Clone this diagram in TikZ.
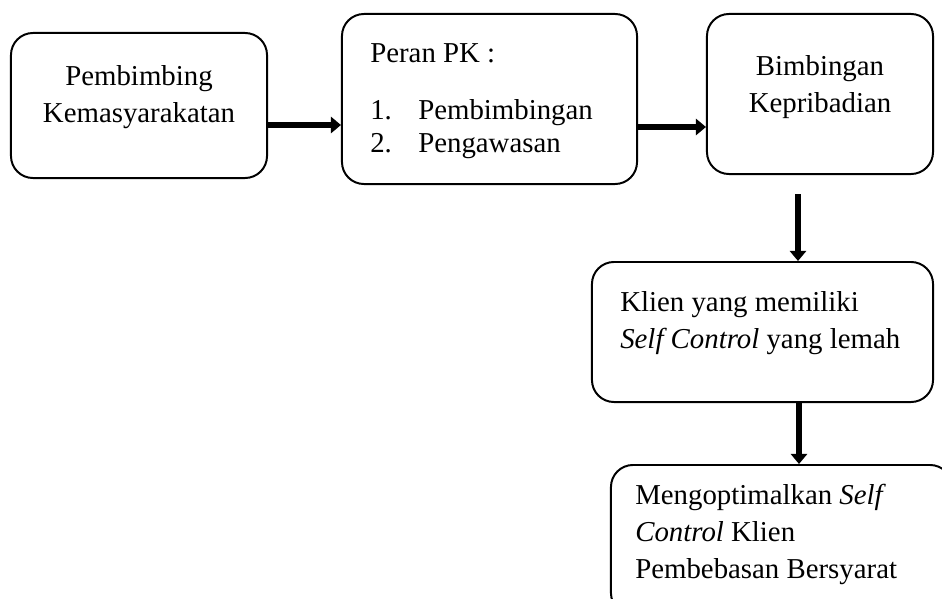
\documentclass[tikz,border=0pt]{standalone}
\usepackage{fontspec}
\setmainfont{Liberation Serif}
\usetikzlibrary{arrows.meta}

\begin{document}
\begin{tikzpicture}[x=0.025cm,y=-0.025cm]
	\tikzset{box/.style={draw,line width=1.4pt,rounded corners=0.55cm,inner sep=0pt},
		tx/.style={inner sep=0pt,font=\fontsize{20.5}{26.2}\selectfont},
		flow/.style={line width=4.6pt,-{Triangle[length=0.25cm,width=0.4cm]}}}
	\useasboundingbox (0,0) rectangle (942,599);
	\clip (0,0) rectangle (942,599);
	% boxes
	\node[box,minimum width=6.4cm,minimum height=3.625cm] (pk) at (139,105.5) {};
	\node[box,minimum width=7.375cm,minimum height=4.25cm] (peran) at (489.5,99) {};
	\node[box,minimum width=5.65cm,minimum height=4cm] (bimbingan) at (820,94) {};
	\node[box,minimum width=8.525cm,minimum height=3.5cm] (klien) at (762.5,332) {};
	\node[box,minimum width=8.525cm,minimum height=3.75cm] (optimal) at (781.5,540) {};
	% texts (base = last line)
	\node[tx,anchor=base,align=center] (pkt) at (139,122) {Pembimbing\\Kemasyarakatan};
	\node[tx,anchor=base west] (perant) at (370,62) {Peran PK :};
	\node[tx,anchor=base west,align=left,font=\fontsize{20.5}{23.4}\selectfont] (listt) at (370,152)
		{\makebox[1.2cm][l]{1.}Pembimbingan\\\makebox[1.2cm][l]{2.}Pengawasan};
	\node[tx,anchor=base,align=center] (bimbingant) at (820,112) {Bimbingan\\Kepribadian};
	\node[tx,anchor=base west,align=left] (kliient) at (620,348)
		{Klien yang memiliki\\\textit{Self Control} yang lemah};
	\node[tx,anchor=base west,align=left] (optimalt) at (635,578)
		{Mengoptimalkan \textit{Self}\\\textit{Control} Klien\\Pembebasan Bersyarat};
	% arrows
	\coordinate (a3) at (798,194);
	\draw[flow] (pk.east |- 0,125) -- (peran.west |- 0,125);
	\draw[flow] (peran.east |- 0,127) -- (bimbingan.west |- 0,127);
	\draw[flow] (a3) -- (a3 |- klien.north);
	\draw[flow] (klien.south -| 799,0) -- (optimal.north -| 799,0);
\end{tikzpicture}
\end{document}
